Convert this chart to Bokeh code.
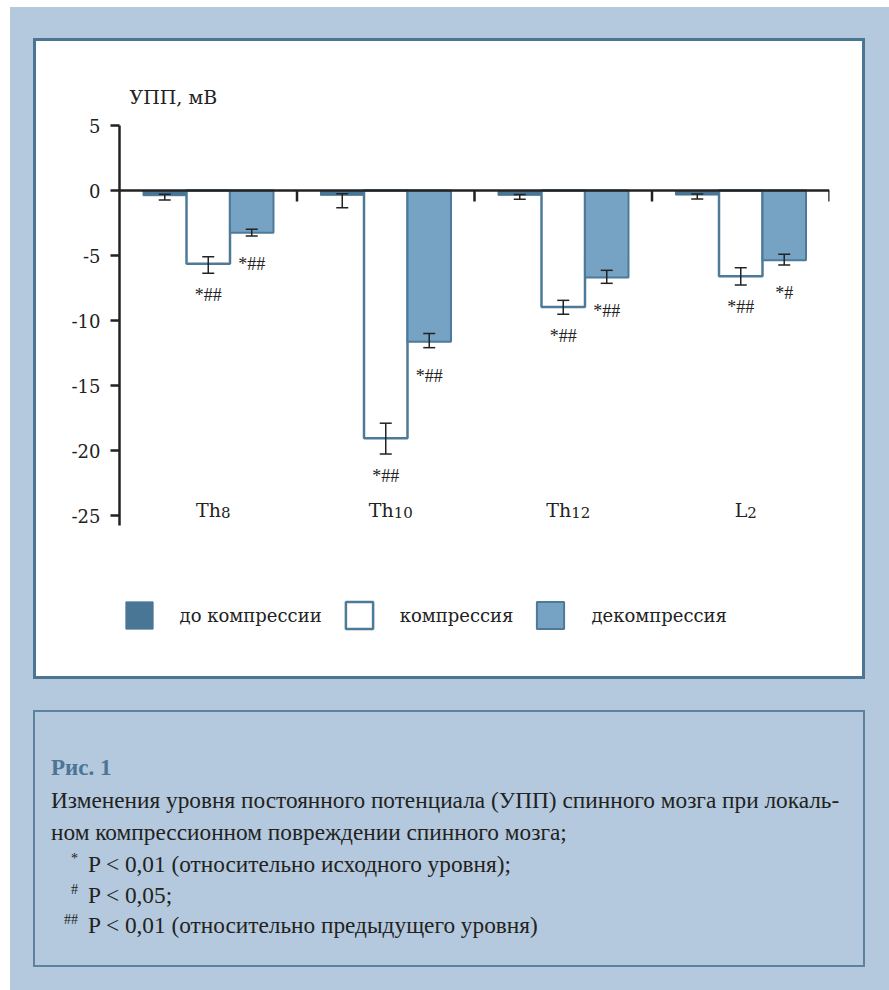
from bokeh.plotting import figure
from bokeh.models import (ColumnDataSource, Range1d, FixedTicker, Whisker, TeeHead,
                          Label, Legend, LegendItem, Div)
from bokeh.layouts import column
from bokeh.core.properties import value
from bokeh.embed import file_html
from bokeh.resources import INLINE

# ---- data: DC potential level (УПП), mV, per spinal cord segment ----
seg_prefix = ["Th", "Th", "Th", "L"]
seg_number = ["8", "10", "12", "2"]

before_mean = [-0.40, -0.37, -0.37, -0.35]
before_low = [-0.73, -1.32, -0.68, -0.65]
before_high = [-0.29, -0.25, -0.30, -0.27]

comp_mean = [-5.63, -19.06, -8.96, -6.60]
comp_low = [-6.37, -20.27, -9.52, -7.27]
comp_high = [-5.09, -17.90, -8.45, -5.94]

decomp_mean = [-3.25, -11.63, -6.70, -5.37]
decomp_low = [-3.50, -12.09, -7.14, -5.73]
decomp_high = [-2.98, -11.00, -6.14, -4.90]

comp_marks = ["*##", "*##", "*##", "*##"]
decomp_marks = ["*##", "*##", "*##", "*#"]

series_names = ["до компрессии", "компрессия", "декомпрессия"]
y_ticks = [5, 0, -5, -10, -15, -20, -25]
y_title = "УПП, мВ"

caption_title = "Рис. 1"
caption_lines = [
    "Изменения уровня постоянного потенциала (УПП) спинного мозга при локаль-",
    "ном компрессионном повреждении спинного мозга;",
]
note_marks = ["*", "#", "##"]
note_texts = [
    "P &lt; 0,01 (относительно исходного уровня);",
    "P &lt; 0,05;",
    "P &lt; 0,01 (относительно предыдущего уровня)",
]

# ---- styling ----
BG = "#b4c9dd"
FRAME_BLUE = "#4b7594"
DARK = "#4a7696"
MID = "#76a2c3"
EDGE = "#4e7a9a"
INK = "#222222"
SERIF = "DejaVu Serif"
TIMES = "Liberation Serif"

PX = 13.0            # pixels per mV
CAT_PX = 177.5       # pixels per segment group
BAR_W = 0.245
offsets = [-BAR_W, 0.0, BAR_W]
PANEL_BORDER = 3

n = len(seg_prefix)
centers = [i + 0.5 for i in range(n)]

# sizes include the css border of the panel
p = figure(width=826 + 2 * PANEL_BORDER, height=635 + 2 * PANEL_BORDER,
           x_range=Range1d(0, 4), y_range=Range1d(5 - 551 / PX, 5 + 84 / PX),
           output_backend="svg", toolbar_location=None,
           x_axis_location=None, y_axis_location="left",
           min_border_left=83, min_border_right=33 + 2 * PANEL_BORDER,
           min_border_top=0, min_border_bottom=2 * PANEL_BORDER,
           background_fill_color="white", border_fill_color="white",
           outline_line_color=None)
p.grid.visible = False

ax = p.yaxis[0]
ax.ticker = FixedTicker(ticks=y_ticks)
ax.bounds = (-25.8, 5)
ax.major_label_overrides = {t: str(t) for t in y_ticks}
ax.axis_line_width = 2.5
ax.axis_line_color = INK
ax.major_tick_line_width = 2.5
ax.major_tick_line_color = INK
ax.major_tick_in = 0
ax.major_tick_out = 9
ax.minor_tick_line_color = None
ax.major_label_standoff = 10
ax.major_label_text_font = SERIF
ax.major_label_text_font_size = "18px"
ax.major_label_text_color = INK

series = [
    (before_mean, before_low, before_high, dict(fill_color=DARK, line_color=DARK, line_width=1)),
    (comp_mean, comp_low, comp_high, dict(fill_color="white", line_color=EDGE, line_width=2.5)),
    (decomp_mean, decomp_low, decomp_high, dict(fill_color=MID, line_color=EDGE, line_width=2)),
]

bar_renderers = []
sources = []
for k, (mean, lo, hi, style) in enumerate(series):
    src = ColumnDataSource(dict(x=[c + offsets[k] for c in centers], top=mean, lower=lo, upper=hi))
    sources.append(src)
    r = p.vbar(x="x", top="top", bottom=0, width=BAR_W, source=src, **style)
    bar_renderers.append(r)

for src in sources:
    w = Whisker(base="x", upper="upper", lower="lower", source=src,
                line_color=INK, line_width=1.5,
                upper_head=TeeHead(size=12, line_color=INK, line_width=1.5),
                lower_head=TeeHead(size=12, line_color=INK, line_width=1.5))
    w.level = "annotation"
    p.add_layout(w)

# zero line with group separators
bounds_x = list(range(n + 1))
p.segment(x0=[0], y0=[0], x1=[n], y1=[0], line_color=INK, line_width=2.5)
p.segment(x0=bounds_x[1:], y0=0, x1=bounds_x[1:], y1=-11 / PX, line_color=INK, line_width=2.5)

# significance marks under the bars
for k, marks, gap in [(1, comp_marks, 1.7), (2, decomp_marks, 2.15)]:
    lo = series[k][1]
    p.text(x=[c + offsets[k] for c in centers], y=[v - gap for v in lo], text=marks,
           text_align="center", text_baseline="middle",
           text_font=value(TIMES), text_font_size="18px", text_color=INK)

# segment names: letters plus smaller number on the same baseline
pre_w = [len(s) * 12.5 for s in seg_prefix]
num_w = [len(s) * 9.5 for s in seg_number]
anchor = [c + (5 + (a - b) / 2) / CAT_PX for c, a, b in zip(centers, pre_w, num_w)]
label_y = 5 - (509 - 125) / PX
p.text(x=anchor, y=[label_y] * n, text=seg_prefix, text_align="right",
       text_baseline="alphabetic", text_font=value(SERIF), text_font_size="19px", text_color=INK)
p.text(x=anchor, y=[label_y] * n, text=seg_number, text_align="left", y_offset=3,
       text_baseline="alphabetic", text_font=value(SERIF), text_font_size="15px", text_color=INK)

p.add_layout(Label(x=10 / CAT_PX, y=5 + (125 - 96.5) / PX, text=y_title,
                   text_font=SERIF, text_font_size="19px", text_color=INK,
                   text_baseline="middle"))

legend = Legend(items=[LegendItem(label=nm, renderers=[r]) for nm, r in zip(series_names, bar_renderers)],
                orientation="horizontal", location=(2.6, 43.7),
                glyph_width=34, glyph_height=34, label_standoff=24, spacing=20,
                padding=0, margin=0, border_line_alpha=0, background_fill_alpha=0,
                label_text_font=SERIF, label_text_font_size="18px", label_text_color=INK)
p.add_layout(legend)
p.styles = {"border": f"{PANEL_BORDER}px solid {FRAME_BLUE}", "background-color": "white"}

# ---- caption panel ----
CW, CH = 828, 253
FS = 23.3


def line_div(left, baseline, html, size=FS, extra=""):
    top = baseline - (0.891 * size + (size - 1.107 * size) / 2)
    return (f'<div style="position:absolute;left:{left}px;top:{top:.1f}px;'
            f'font-size:{size}px;line-height:{size}px;white-space:nowrap;{extra}">{html}</div>')


parts = [line_div(16, 63, caption_title, 23, "font-weight:bold;color:#4d7495;")]
for txt, base in zip(caption_lines, [96, 128]):
    parts.append(line_div(16, base, txt))
for mark, txt, base in zip(note_marks, note_texts, [160, 191, 221]):
    parts.append(line_div(0, base - 8, mark, 14, "width:43px;text-align:right;"))
    parts.append(line_div(53, base, txt))

caption = Div(text=(f'<div style="position:relative;width:{CW}px;height:{CH}px;'
                    f'font-family:\'{TIMES}\';color:{INK};">' + "".join(parts) + "</div>"),
              width=CW + 4, height=CH + 4, margin=0,
              styles={"border": "2px solid #5d829f", "background-color": BG})

page = column(p, caption, spacing=31,
              styles={"background-color": BG, "padding": "31px 24px 23px 23px",
                      "margin": "7px 0 0 10px"})

open("out.html", "w").write(file_html(page, INLINE))
